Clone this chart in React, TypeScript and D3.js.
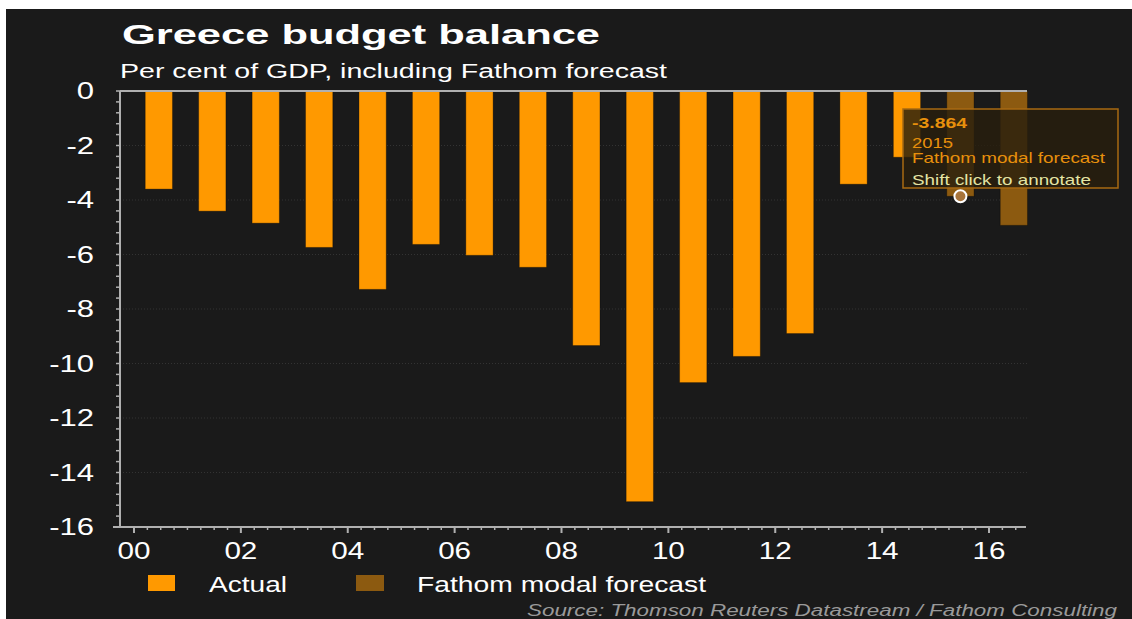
import React from "react";
import * as d3 from "d3";

const years = [2000, 2001, 2002, 2003, 2004, 2005, 2006, 2007, 2008, 2009, 2010, 2011, 2012, 2013, 2014, 2015, 2016];
const values = [-3.6, -4.41, -4.85, -5.74, -7.28, -5.63, -6.03, -6.47, -9.34, -15.07, -10.7, -9.74, -8.9, -3.42, -2.43, -3.864, -4.93];
const series = ["Actual", "Actual", "Actual", "Actual", "Actual", "Actual", "Actual", "Actual", "Actual", "Actual", "Actual", "Actual", "Actual", "Actual", "Actual", "Fathom modal forecast", "Fathom modal forecast"];
const yTicks = [0, -2, -4, -6, -8, -10, -12, -14, -16];
const xTickYears = [2000, 2002, 2004, 2006, 2008, 2010, 2012, 2014, 2016];
const xTickLabels = ["00", "02", "04", "06", "08", "10", "12", "14", "16"];
const legendItems = ["Actual", "Fathom modal forecast"];
const colors: Record<string, string> = { "Actual": "#ff9900", "Fathom modal forecast": "#8c5a10" };

const FONT = "'Liberation Sans', Arial, sans-serif";

export default function App() {
  const W = 1132, H = 619;
  const x = d3.scaleLinear().domain([2000, 2016]).range([134, 989]);
  const y = d3.scaleLinear().domain([-16, 0]).range([527, 91]);
  const left = 120, right = 1027;

  const minorY = d3.range(0, -16.01, -0.4);
  const minorX = d3.range(2000, 2016.7, 0.25);

  const tipIdx = 15;
  const tipX = x(years[tipIdx] + 0.465);
  const tipY = y(values[tipIdx]);

  return (
    <svg width={W} height={H} style={{ position: "absolute", left: 0, top: 0, display: "block" }} fontFamily={FONT}>
      <rect x={0} y={0} width={W} height={H} fill="#ffffff" />
      <rect x={6} y={9} width={W - 6} height={H - 9} fill="#1a1a1a" />

      <text x={122} y={44} fill="#ffffff" fontSize={28} fontWeight="bold" textLength={478} lengthAdjust="spacingAndGlyphs">Greece budget balance</text>
      <text x={120} y={78} fill="#ffffff" fontSize={20} textLength={547} lengthAdjust="spacingAndGlyphs">Per cent of GDP, including Fathom forecast</text>

      {/* gridlines */}
      {yTicks.filter(t => t !== 0 && t !== -16).map(t => (
        <line key={"g" + t} x1={left} x2={right} y1={y(t)} y2={y(t)} stroke="#333333" strokeWidth={1} strokeDasharray="1,2" />
      ))}

      {/* bars */}
      {years.map((yr, i) => (
        <rect key={yr} x={x(yr + 0.21)} width={x(yr + 0.72) - x(yr + 0.21)} y={y(0)} height={y(values[i]) - y(0)}
          fill={colors[series[i]]} stroke="#000" strokeOpacity={0.3} strokeWidth={1} />
      ))}

      {/* y axis */}
      <line x1={left} x2={left} y1={y(0)} y2={y(-16) + 1} stroke="#b0b0b0" strokeWidth={2} />
      {minorY.map((t, i) => (
        <line key={"my" + i} x1={left - 4} x2={left} y1={y(t)} y2={y(t)} stroke="#b0b0b0" strokeWidth={1.5} />
      ))}
      {yTicks.map(t => (
        <text key={"yl" + t} transform={`translate(94,${y(t) + 8}) scale(1.35,1)`} textAnchor="end" fill="#ffffff" fontSize={23}>{t}</text>
      ))}

      {/* zero line */}
      <line x1={left} x2={right} y1={y(0)} y2={y(0)} stroke="#b0b0b0" strokeWidth={2} />

      {/* x axis */}
      <line x1={113} x2={1026} y1={y(-16)} y2={y(-16)} stroke="#b0b0b0" strokeWidth={2} />
      {minorX.map((t, i) => {
        const major = Math.abs(t - Math.round(t)) < 1e-6 && Math.round(t) % 2 === 0;
        return <line key={"mx" + i} x1={x(t)} x2={x(t)} y1={y(-16)} y2={y(-16) + (major ? 6 : 3)} stroke="#b0b0b0" strokeWidth={major ? 2 : 1.5} />;
      })}
      {xTickYears.map((t, i) => (
        <text key={"xl" + t} x={x(t)} y={559} textAnchor="middle" fill="#ffffff" fontSize={23} textLength={33} lengthAdjust="spacingAndGlyphs">{xTickLabels[i]}</text>
      ))}

      {/* legend */}
      <rect x={148} y={575} width={27} height={16} fill={colors[legendItems[0]]} />
      <text x={209} y={592} fill="#ffffff" fontSize={22} textLength={78} lengthAdjust="spacingAndGlyphs">{legendItems[0]}</text>
      <rect x={356} y={575} width={28} height={16} fill={colors[legendItems[1]]} />
      <text x={417} y={592} fill="#ffffff" fontSize={22} textLength={289} lengthAdjust="spacingAndGlyphs">{legendItems[1]}</text>

      <text x={527} y={616} fill="#9a9a9a" fontSize={16} fontStyle="italic" textLength={590} lengthAdjust="spacingAndGlyphs">Source: Thomson Reuters Datastream / Fathom Consulting</text>

      {/* tooltip */}
      <circle cx={tipX} cy={tipY} r={6} fill="#a8743a" stroke="#ffffff" strokeWidth={2} />
      <rect x={903} y={109} width={215} height={79} fill="rgb(40,30,14)" fillOpacity={0.82} stroke="#a86a12" strokeWidth={1.5} />
      <text x={912} y={128} fill="#e8900c" fontSize={15} fontWeight="bold" textLength={55} lengthAdjust="spacingAndGlyphs">{values[tipIdx].toFixed(3)}</text>
      <text x={912} y={148} fill="#e8900c" fontSize={15} textLength={41} lengthAdjust="spacingAndGlyphs">{String(years[tipIdx])}</text>
      <text x={912} y={163} fill="#e8900c" fontSize={15} textLength={193} lengthAdjust="spacingAndGlyphs">{series[tipIdx]}</text>
      <text x={912} y={185} fill="#e4e4a4" fontSize={15} textLength={179} lengthAdjust="spacingAndGlyphs">Shift click to annotate</text>
    </svg>
  );
}
